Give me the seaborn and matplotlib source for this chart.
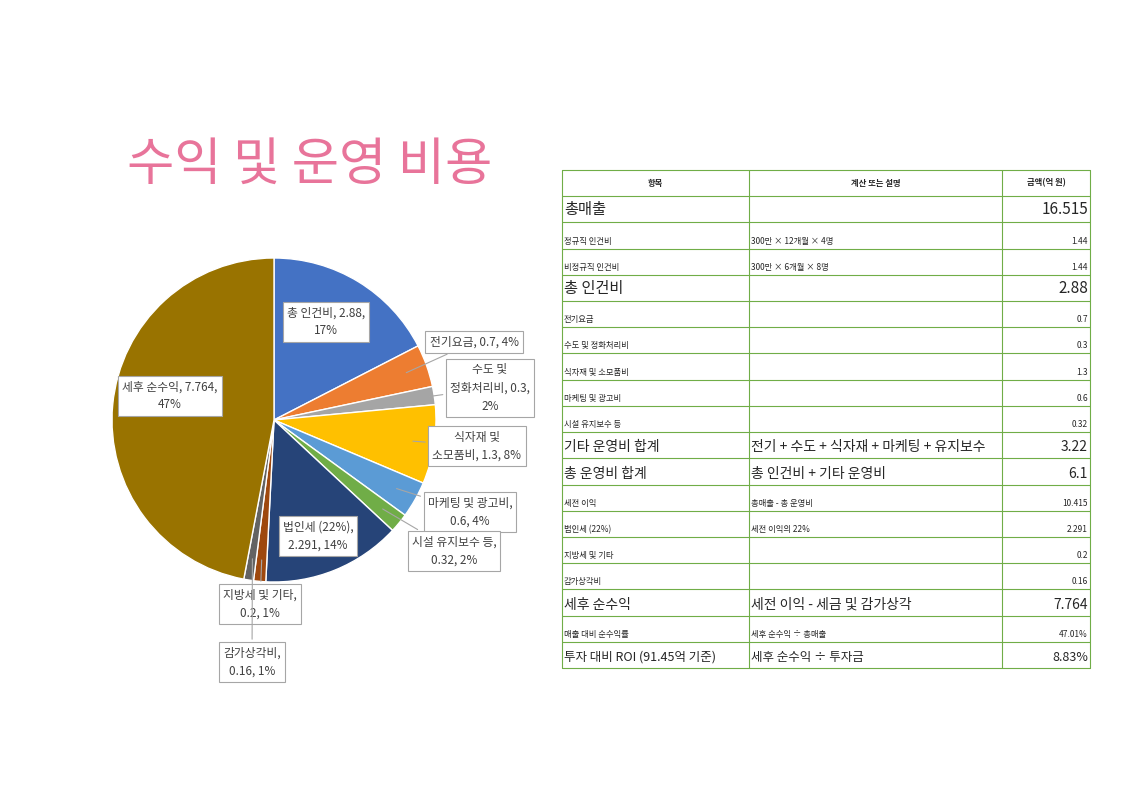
import matplotlib
matplotlib.use("Agg")
import matplotlib.pyplot as plt
import seaborn as sns
import numpy as np

sns.set_theme(style="white")
plt.rcParams["font.family"] = "Noto Sans CJK KR"

# ---- data ----
pie_labels = ["총 인건비", "전기요금", "수도 및\n정화처리비", "식자재 및\n소모품비", "마케팅 및 광고비",
              "시설 유지보수 등", "법인세 (22%)", "지방세 및 기타", "감가상각비", "세후 순수익"]
pie_values = [2.88, 0.7, 0.3, 1.3, 0.6, 0.32, 2.291, 0.2, 0.16, 7.764]
pie_pcts = ["17%", "4%", "2%", "8%", "4%", "2%", "14%", "1%", "1%", "47%"]
pie_colors = ["#4472C4", "#ED7D31", "#A5A5A5", "#FFC000", "#5B9BD5", "#70AD47",
              "#264478", "#9E480E", "#636363", "#997300"]

tbl_items = ["항목", "총매출", "정규직 인건비", "비정규직 인건비", "총 인건비", "전기요금", "수도 및 정화처리비",
             "식자재 및 소모품비", "마케팅 및 광고비", "시설 유지보수 등", "기타 운영비 합계", "총 운영비 합계",
             "세전 이익", "법인세 (22%)", "지방세 및 기타", "감가상각비", "세후 순수익", "매출 대비 순수익률",
             "투자 대비 ROI (91.45억 기준)"]
tbl_desc = ["계산 또는 설명", "", "300만 × 12개월 × 4명", "300만 × 6개월 × 8명", "", "", "", "", "", "",
            "전기 + 수도 + 식자재 + 마케팅 + 유지보수", "총 인건비 + 기타 운영비", "총매출 - 총 운영비",
            "세전 이익의 22%", "", "", "세전 이익 - 세금 및 감가상각", "세후 순수익 ÷ 총매출", "세후 순수익 ÷ 투자금"]
tbl_amount = ["금액(억 원)", "16.515", "1.44", "1.44", "2.88", "0.7", "0.3", "1.3", "0.6", "0.32", "3.22", "6.1",
              "10.415", "2.291", "0.2", "0.16", "7.764", "47.01%", "8.83%"]
tbl_size = [6, 11, 6, 6, 11, 6, 6, 6, 6, 6, 10, 10, 6, 6, 6, 6, 10, 6, 9]

W, H = 1123, 793
fig = plt.figure(figsize=(W / 100, H / 100), dpi=100)
fig.patch.set_facecolor("white")

def fx(x): return x / W
def fy(y): return 1 - y / H

fig.text(fx(310), fy(165), "수익 및 운영 비용", color="#E8749A", fontsize=37, ha="center", va="center")

# ---- pie ----
cx, cy, r = 274, 420, 162
ax = fig.add_axes([fx(cx - r), fy(cy + r), 2 * r / W, 2 * r / H])
wedges, _ = ax.pie(pie_values, colors=pie_colors, startangle=90, counterclock=False,
                   wedgeprops=dict(edgecolor="white", linewidth=1))
ax.set_xlim(-1, 1); ax.set_ylim(-1, 1)
ax.set_aspect("equal")

label_pos = [(326, 322), (474, 342), (490, 388), (477, 446), (470, 512), (454, 551),
             (318, 536), (260, 604), (252, 662), (170, 396)]
arrow = [False, True, True, True, True, True, False, True, True, False]
for i, w in enumerate(wedges):
    lab = pie_labels[i]
    v = f"{pie_values[i]:g}"
    if i == 2:
        txt = f"수도 및\n정화처리비, {v},\n{pie_pcts[i]}"
    elif i == 3:
        txt = f"식자재 및\n소모품비, {v}, {pie_pcts[i]}"
    elif i in (0, 9):
        txt = f"{lab}, {v},\n{pie_pcts[i]}"
    elif i == 1:
        txt = f"{lab}, {v}, {pie_pcts[i]}"
    else:
        txt = f"{lab},\n{v}, {pie_pcts[i]}"
    ang = np.deg2rad((w.theta1 + w.theta2) / 2)
    tx, ty = 0.85 * np.cos(ang), 0.85 * np.sin(ang)
    lx, ly = label_pos[i]
    ax.annotate(txt, xy=(tx, ty), xycoords="data",
                xytext=(fx(lx), fy(ly)), textcoords="figure fraction",
                ha="center", va="center", fontsize=8.5, color="#404040", linespacing=1.5,
                bbox=dict(boxstyle="square,pad=0.35", fc="white", ec="#A6A6A6", lw=0.8),
                arrowprops=dict(arrowstyle="-", color="#A6A6A6", lw=0.8) if arrow[i] else None,
                annotation_clip=False)

# ---- table ----
tx0, tx1, ty0, ty1 = 562, 1090, 170, 668
cols = [562, 749, 1002, 1090]
n = len(tbl_items)
rh = (ty1 - ty0) / n
tax = fig.add_axes([0, 0, 1, 1], facecolor="none")
tax.set_xlim(0, W); tax.set_ylim(H, 0); tax.axis("off")
green = "#70AD47"
for k in range(n + 1):
    tax.plot([tx0, tx1], [ty0 + k * rh] * 2, color=green, lw=0.8)
for c in cols:
    tax.plot([c, c], [ty0, ty1], color=green, lw=0.8)
for k in range(n):
    s = tbl_size[k]
    ybot = ty0 + (k + 1) * rh
    if k == 0:
        y = ty0 + rh / 2
        for j, t in enumerate([tbl_items[0], tbl_desc[0], tbl_amount[0]]):
            tax.text((cols[j] + cols[j + 1]) / 2, y, t, ha="center", va="center", fontsize=6, fontweight="bold")
        continue
    y = ybot - (3 if s < 8 else 4)
    tax.text(cols[0] + 2, y, tbl_items[k], ha="left", va="bottom", fontsize=s)
    tax.text(cols[1] + 2, y, tbl_desc[k], ha="left", va="bottom", fontsize=s)
    tax.text(cols[3] - 2, y, tbl_amount[k], ha="right", va="bottom", fontsize=s)

fig.savefig("out.png", dpi=100)
